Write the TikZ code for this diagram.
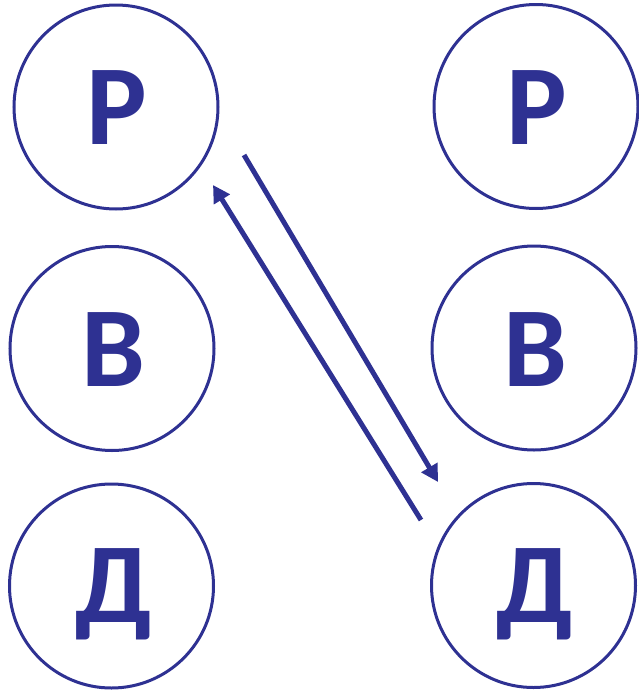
\documentclass[tikz,border=0pt]{standalone}
\usepackage{fontspec}
\setmainfont{Carlito}
\usetikzlibrary{arrows.meta}
\definecolor{dblue}{HTML}{2E3192}
\begin{document}
\begin{tikzpicture}[x=1pt,y=-1pt,
  ring/.style={circle,draw=dblue,line width=3pt,minimum size=204pt,inner sep=0pt},
  letter/.style={anchor=base,text=dblue,font=\fontsize{114}{114}\selectfont\bfseries,inner sep=0pt},
  link/.style={draw=dblue,line width=5pt,-{Triangle[length=17pt,width=18pt]}}]
\useasboundingbox (0,0) rectangle (639,691);
\node[ring] (lr) at (116,107) {};
\node[ring] (lb) at (112,348.5) {};
\node[ring] (ld) at (111.5,586) {};
\node[ring] (rr) at (536,106.5) {};
\node[ring] (rb) at (534,348) {};
\node[ring] (rd) at (533.5,585.5) {};
\node[letter] (tlr) at (117,144) {Р};
\node[letter] (tlb) at (113,386) {В};
\node[letter] (tld) at (114,622) {Д};
\node[letter] (trr) at (537,144) {Р};
\node[letter] (trb) at (535,386) {В};
\node[letter] (trd) at (535,622) {Д};
\coordinate (a1s) at (244,155);
\coordinate (a1e) at (438,482);
\coordinate (a2s) at (421,520);
\coordinate (a2e) at (213,185);
\draw[link] (a1s) -- (a1e);
\draw[link] (a2s) -- (a2e);
\end{tikzpicture}
\end{document}
